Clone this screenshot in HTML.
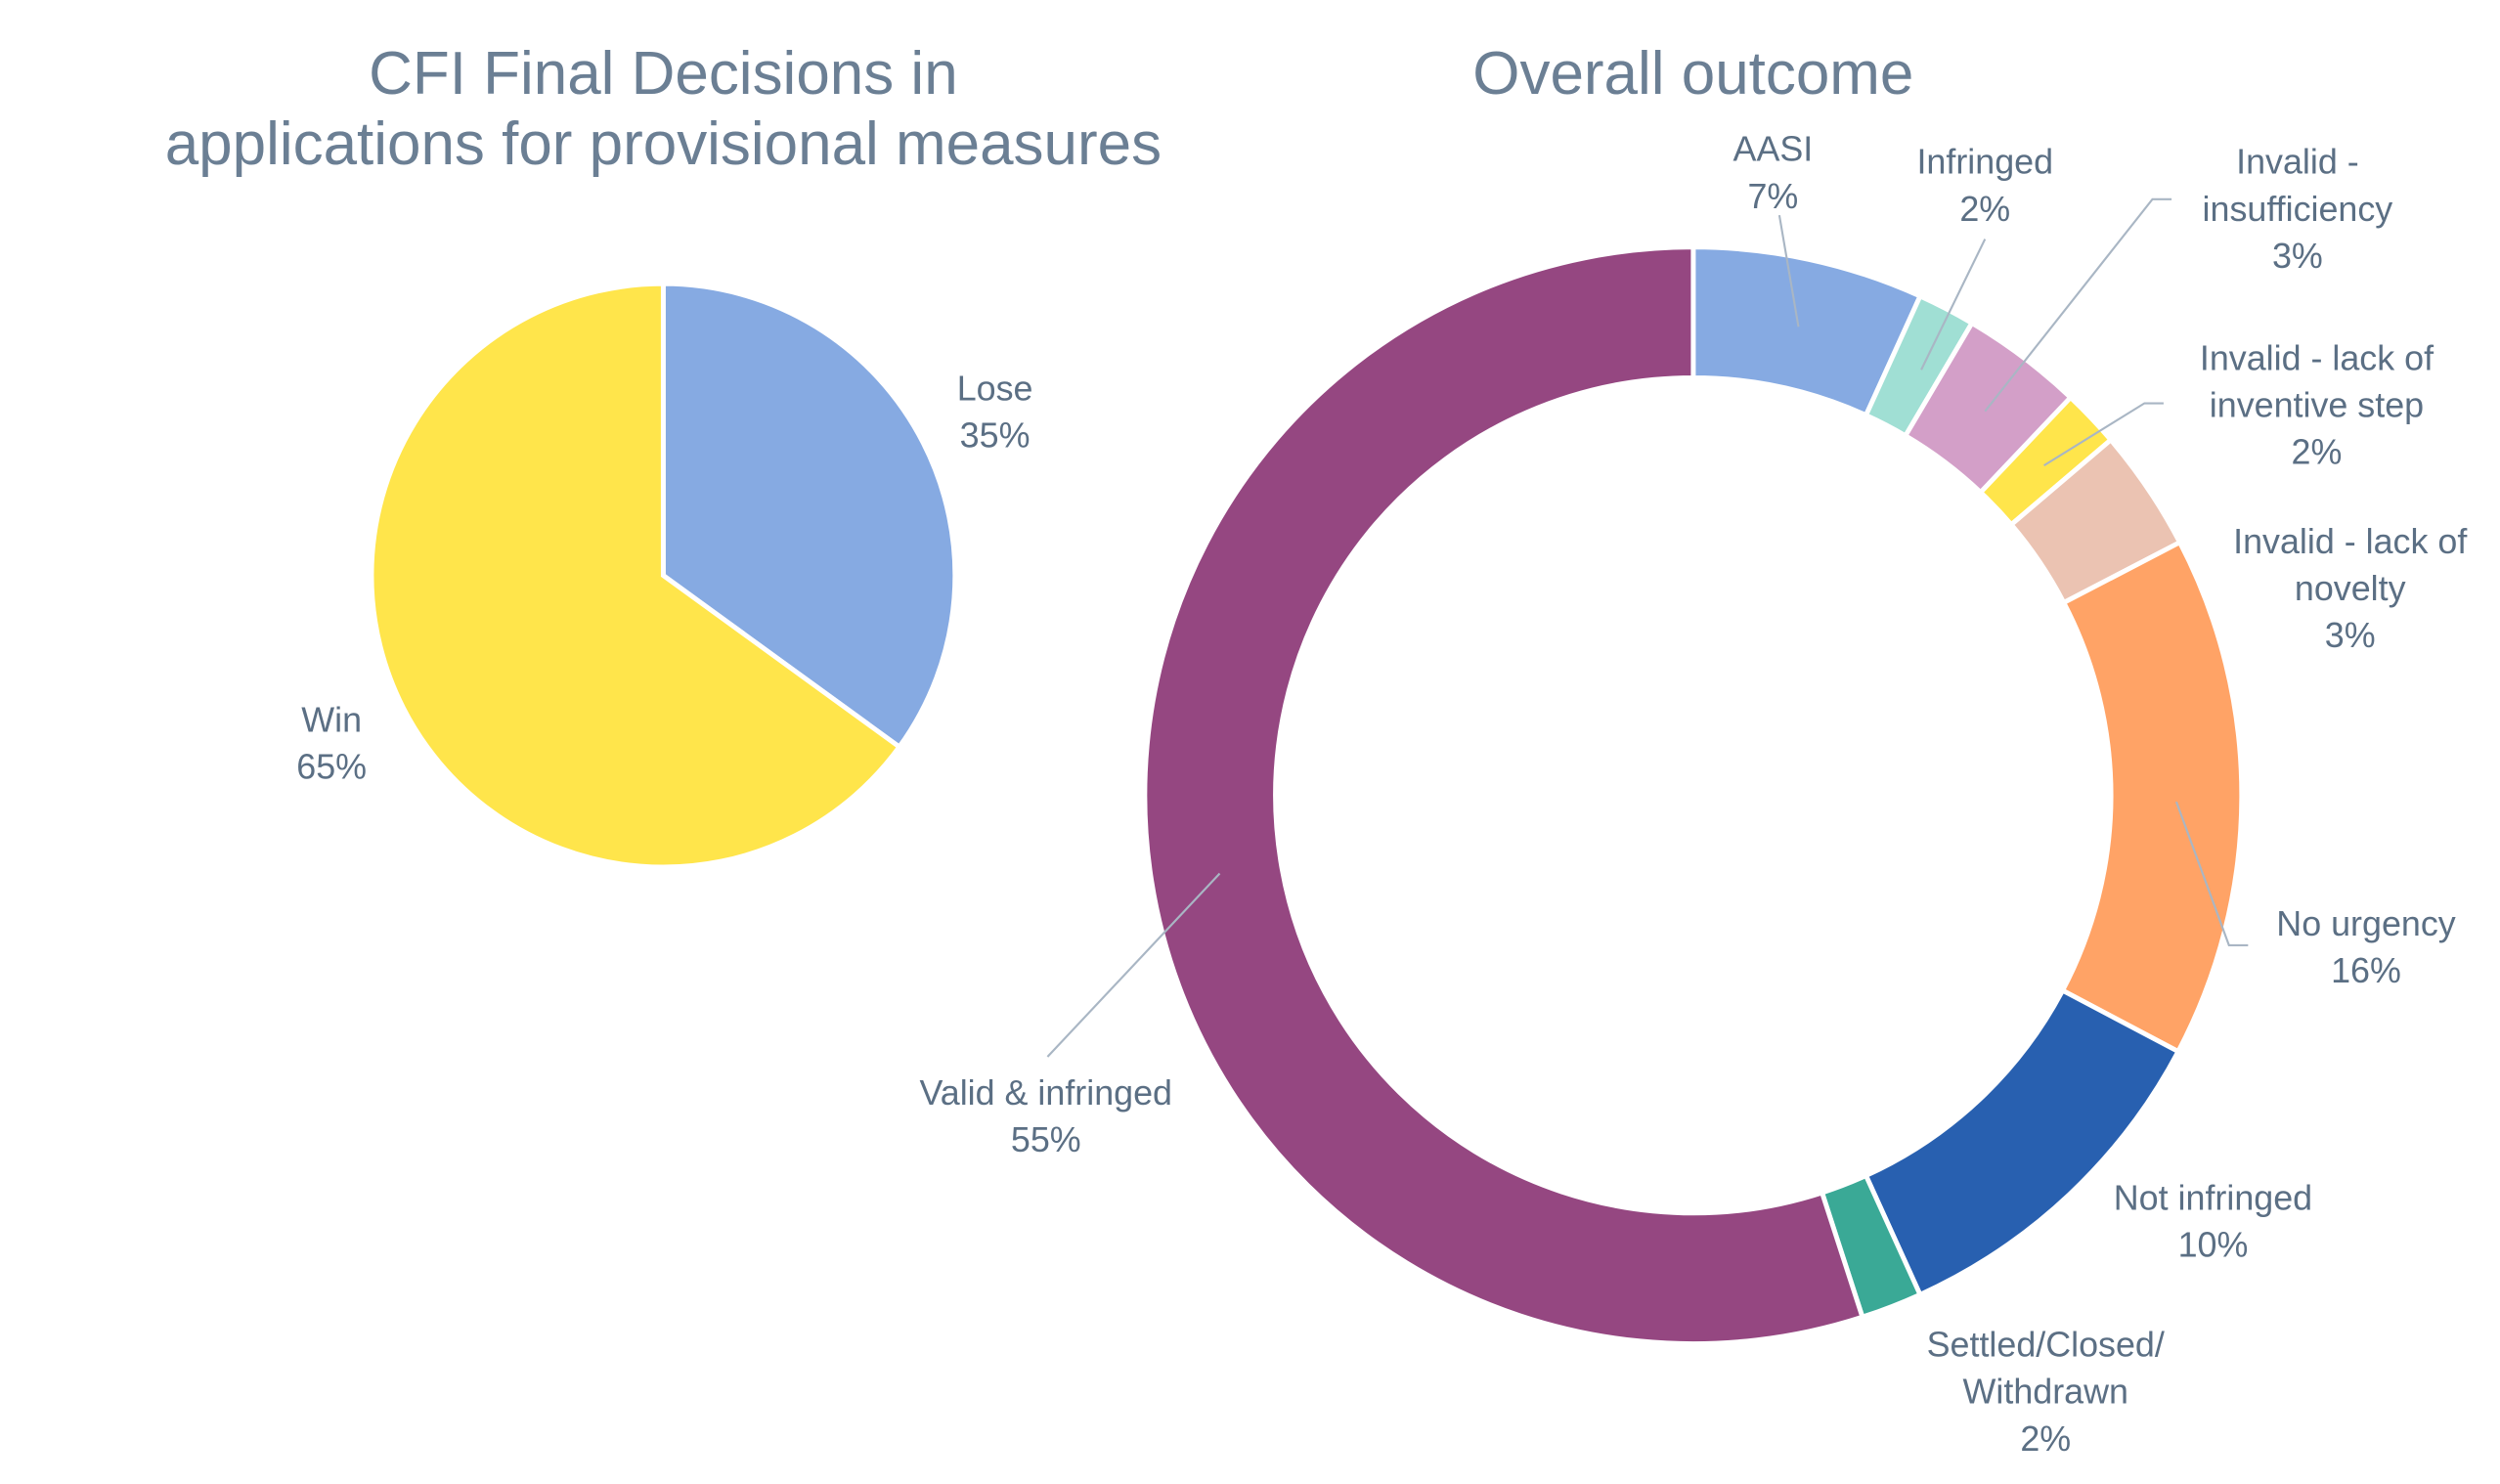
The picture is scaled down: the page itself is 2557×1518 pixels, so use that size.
<!DOCTYPE html>
<html><head><meta charset="utf-8"><style>
html,body{margin:0;padding:0;background:#fff;}
svg{display:block;font-family:"Liberation Sans",Arial,sans-serif;}
</style></head><body>
<svg id="chart" width="2557" height="1518" viewBox="0 0 1568 931" preserveAspectRatio="none" xmlns="http://www.w3.org/2000/svg">
<text x="416" y="59" text-anchor="middle" font-size="38" fill="#6b7f94">CFI Final Decisions in</text>
<text x="416" y="103" text-anchor="middle" font-size="38" fill="#6b7f94">applications for provisional measures</text>
<text x="1062" y="59" text-anchor="middle" font-size="38" fill="#6b7f94">Overall outcome</text>
<g id="pie"></g>
<g id="donut"></g>
<g id="leaders" stroke="#a9b6c4" stroke-width="1.3" fill="none">
<polyline points="1128,205 1116,135"/>
<polyline points="1205,232 1245,150"/>
<polyline points="1245,258 1350,125 1362,125"/>
<polyline points="1282,292 1345,253 1357,253"/>
<polyline points="1365,503 1398,593 1410,593"/>
<polyline points="765,548 657,663"/>
</g>
<g id="labels" font-size="22" fill="#5b6f84" text-anchor="middle"></g>
</svg>
<script>
const pieCats=["Lose","Win"];
const pieVals=[35,65];
const pieColors=["#86aae2","#ffe54b"];
const donutCats=["AASI","Infringed","Invalid - insufficiency","Invalid - lack of inventive step","Invalid - lack of novelty","No urgency","Not infringed","Settled/Closed/Withdrawn","Valid & infringed"];
const donutVals=[6.8,1.7,3.6,1.7,3.6,15.4,10.5,1.8,55.1];
const donutColors=["#86aae2","#a0dfd4","#d39fc8","#ffe54b","#ebc3b2","#ffa366","#2860b0","#3aa996","#954781"];
const NS="http://www.w3.org/2000/svg";
function pt(cx,cy,r,a){return [cx+r*Math.sin(a),cy-r*Math.cos(a)];}
function arcPath(cx,cy,R,r,a0,a1){
  const big=(a1-a0)>Math.PI?1:0;
  const p0=pt(cx,cy,R,a0),p1=pt(cx,cy,R,a1);
  if(r===0) return `M${cx},${cy}L${p0}A${R},${R} 0 ${big} 1 ${p1}Z`;
  const q1=pt(cx,cy,r,a1),q0=pt(cx,cy,r,a0);
  return `M${p0}A${R},${R} 0 ${big} 1 ${p1}L${q1}A${r},${r} 0 ${big} 0 ${q0}Z`;
}
function draw(g,vals,cats,colors,cx,cy,R,r,name){
  const tot=vals.reduce((a,b)=>a+b,0);let a=0;
  vals.forEach((v,i)=>{
    const a1=a+v/tot*2*Math.PI;
    const p=document.createElementNS(NS,'path');
    p.setAttribute('d',arcPath(cx,cy,R,r,a,a1));
    p.setAttribute('fill',colors[i]);p.setAttribute('stroke','#fff');p.setAttribute('stroke-width','3');
    
    
    g.appendChild(p);a=a1;
  });
}
draw(document.getElementById('pie'),pieVals,pieCats,pieColors,416,361,183,0,'pie-slice');
draw(document.getElementById('donut'),donutVals,donutCats,donutColors,1062,499,344,262,'donut-segment');
const labelLines=[["Lose","35%"],["Win","65%"],["AASI","7%"],["Infringed","2%"],["Invalid -","insufficiency","3%"],["Invalid - lack of","inventive step","2%"],["Invalid - lack of","novelty","3%"],["No urgency","16%"],["Not infringed","10%"],["Settled/Closed/","Withdrawn","2%"],["Valid & infringed","55%"]];
const labelPos=[[624,251],[208,459],[1112,101],[1245,109],[1441,109],[1453,232],[1474,347],[1484,587],[1388,759],[1283,851],[656,693]];
const lg=document.getElementById('labels');
labelLines.forEach((ls,i)=>{
  const t=document.createElementNS(NS,'text');
  t.setAttribute('x',labelPos[i][0]);t.setAttribute('y',labelPos[i][1]);
  
  
  ls.forEach((s,j)=>{const ts=document.createElementNS(NS,'tspan');ts.setAttribute('x',labelPos[i][0]);if(j)ts.setAttribute('dy','29.5');ts.textContent=s;t.appendChild(ts);});
  lg.appendChild(t);
});
</script>
</body></html>
